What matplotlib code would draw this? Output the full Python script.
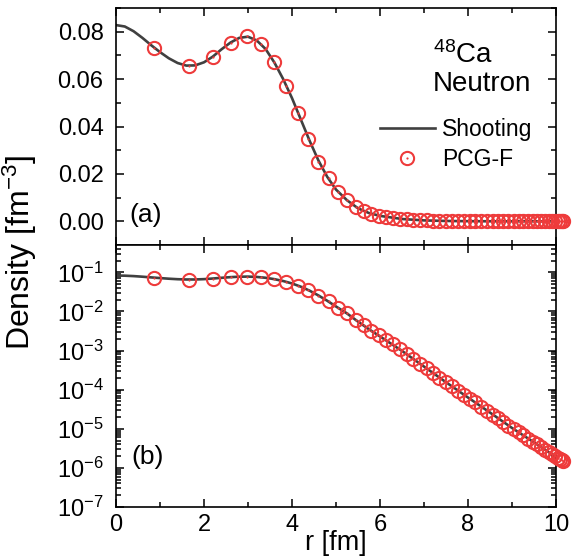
import numpy as np
import matplotlib
matplotlib.use('Agg')
import matplotlib.pyplot as plt
from matplotlib.lines import Line2D
from matplotlib.ticker import MultipleLocator, FixedLocator, NullFormatter

plt.rcParams['font.family'] = ['Liberation Sans', 'DejaVu Sans']
plt.rcParams['mathtext.fontset'] = 'custom'
plt.rcParams['mathtext.rm'] = 'Liberation Sans'
plt.rcParams['mathtext.it'] = 'Liberation Sans'

# Shooting method curve
r_line = [0.0, 0.2, 0.4, 0.6, 0.8, 1.0, 1.2, 1.4, 1.6, 1.8, 2.0, 2.2, 2.4, 2.6,
          2.8, 3.0, 3.2, 3.4, 3.6, 3.8, 4.0, 4.2, 4.4, 4.6, 4.8, 5.0, 5.25, 5.5,
          5.75, 6.0, 6.5, 7.0, 7.5, 8.0, 8.5, 9.0, 9.5, 10.0, 10.16]
rho_line = [0.0828, 0.0822, 0.0802, 0.0774, 0.0743, 0.0714, 0.0688, 0.0668,
            0.0657, 0.0658, 0.0671, 0.0695, 0.0726, 0.0754, 0.0774, 0.0779,
            0.0763, 0.0727, 0.0670, 0.0600, 0.0520, 0.0430, 0.0340, 0.0257,
            0.0188, 0.0134, 0.0089, 0.0055, 0.0035, 0.0023, 9.8e-4, 3.9e-4,
            1.55e-4, 6.3e-5, 2.6e-5, 1.05e-5, 4.5e-6, 1.9e-6, 1.48e-6]

# PCG-F mesh points
r_pts = [0.87, 1.66, 2.20, 2.61, 2.97, 3.30, 3.58, 3.87, 4.13, 4.37, 4.60, 4.83,
         5.04, 5.25, 5.45, 5.63, 5.80, 5.97, 6.13, 6.29, 6.45, 6.61, 6.76, 6.91,
         7.06, 7.21, 7.35, 7.49, 7.63, 7.77, 7.91, 8.04, 8.17, 8.30, 8.43, 8.56,
         8.68, 8.80, 8.92, 9.04, 9.15, 9.26, 9.37, 9.47, 9.57, 9.66, 9.75, 9.83,
         9.91, 9.98, 10.04, 10.09, 10.13, 10.16]
rho_pts = [0.0731, 0.0655, 0.0695, 0.0754, 0.0780, 0.0749, 0.0674, 0.0570,
           0.0457, 0.0348, 0.0252, 0.0182, 0.0125, 0.0089, 6.0e-3, 4.4e-3,
           3.2e-3, 2.45e-3, 1.9e-3, 1.45e-3, 1.07e-3, 8.1e-4, 6.2e-4, 4.6e-4,
           3.5e-4, 2.6e-4, 2.0e-4, 1.6e-4, 1.23e-4, 9.5e-5, 7.4e-5, 5.9e-5,
           4.7e-5, 3.7e-5, 2.9e-5, 2.3e-5, 1.86e-5, 1.48e-5, 1.2e-5, 9.8e-6,
           8.1e-6, 6.8e-6, 5.6e-6, 4.7e-6, 4.0e-6, 3.4e-6, 2.95e-6, 2.6e-6,
           2.2e-6, 2.0e-6, 1.78e-6, 1.66e-6, 1.55e-6, 1.48e-6]

log_ticks = [1e-7, 1e-6, 1e-5, 1e-4, 1e-3, 1e-2, 1e-1]

line_c = '#404040'
red = '#EE3B3B'

fig = plt.figure(figsize=(5.72, 5.57), dpi=100)
ax1 = fig.add_axes([0.2028, 0.5601, 0.7692, 0.4255])
ax2 = fig.add_axes([0.2028, 0.0898, 0.7692, 0.4703], sharex=ax1)


def draw(ax):
    ax.plot(r_line, rho_line, color=line_c, lw=1.9, zorder=2)
    ax.plot(r_pts, rho_pts, ls='none', marker='o', ms=9.5, mfc='none',
            mec=red, mew=1.5, zorder=3, clip_on=False)
    ax.plot(r_pts, rho_pts, ls='none', marker='o', ms=1.6, mfc=red,
            mec='none', zorder=4, clip_on=False)
    ax.tick_params(which='both', direction='in', top=True, right=True,
                   labelsize=17, width=1.1)
    ax.tick_params(which='major', length=6)
    ax.tick_params(which='minor', length=3.5)
    ax.tick_params(axis='y', which='both', pad=9)
    for s in ax.spines.values():
        s.set_linewidth(1.2)


draw(ax1)
draw(ax2)

ax1.set_xlim(0, 10)
ax1.xaxis.set_major_locator(MultipleLocator(2))
ax1.xaxis.set_minor_locator(MultipleLocator(1))
ax1.set_ylim(-0.01, 0.09)
ax1.yaxis.set_major_locator(MultipleLocator(0.02))
ax1.yaxis.set_minor_locator(MultipleLocator(0.01))
ax1.yaxis.set_major_formatter(plt.FormatStrFormatter('%.2f'))
ax1.tick_params(labelbottom=False)

ax2.set_yscale('log')
ax2.set_ylim(1e-7, 0.5)
ax2.yaxis.set_major_locator(FixedLocator(log_ticks))
minor = [m * t for t in log_ticks for m in range(2, 10) if m * t < 0.5]
ax2.yaxis.set_minor_locator(FixedLocator(minor))
ax2.yaxis.set_minor_formatter(NullFormatter())
ax2.tick_params(axis='x', pad=5)
ax2.set_xlabel('r [fm]', fontsize=19.5, labelpad=-4)

fig.text(0.035, 0.547, 'Density [fm$^{-3}$]', rotation=90, fontsize=23,
         ha='center', va='center')

ax1.text(0.72, 0.80, '$^{48}$Ca', transform=ax1.transAxes, fontsize=20,
         ha='left', va='center')
ax1.text(0.72, 0.68, 'Neutron', transform=ax1.transAxes, fontsize=20,
         ha='left', va='center')
ax1.text(0.03, 0.125, '(a)', transform=ax1.transAxes, fontsize=19,
         ha='left', va='center')
ax2.text(0.035, 0.19, '(b)', transform=ax2.transAxes, fontsize=19,
         ha='left', va='center')

h_line = Line2D([], [], color=line_c, lw=1.9)
h_ring = Line2D([], [], ls='none', marker='o', ms=9.5, mfc='none', mec=red, mew=1.5)
h_dot = Line2D([], [], ls='none', marker='o', ms=1.6, mfc=red, mec='none')
ax1.legend([h_line, (h_ring, h_dot)], ['Shooting', 'PCG-F'], loc='upper left',
           bbox_to_anchor=(0.6, 0.535), frameon=False, fontsize=16.5,
           handlelength=2.4, handletextpad=0.3, labelspacing=0.3,
           borderpad=0, borderaxespad=0)

fig.savefig('out.png', dpi=100)
